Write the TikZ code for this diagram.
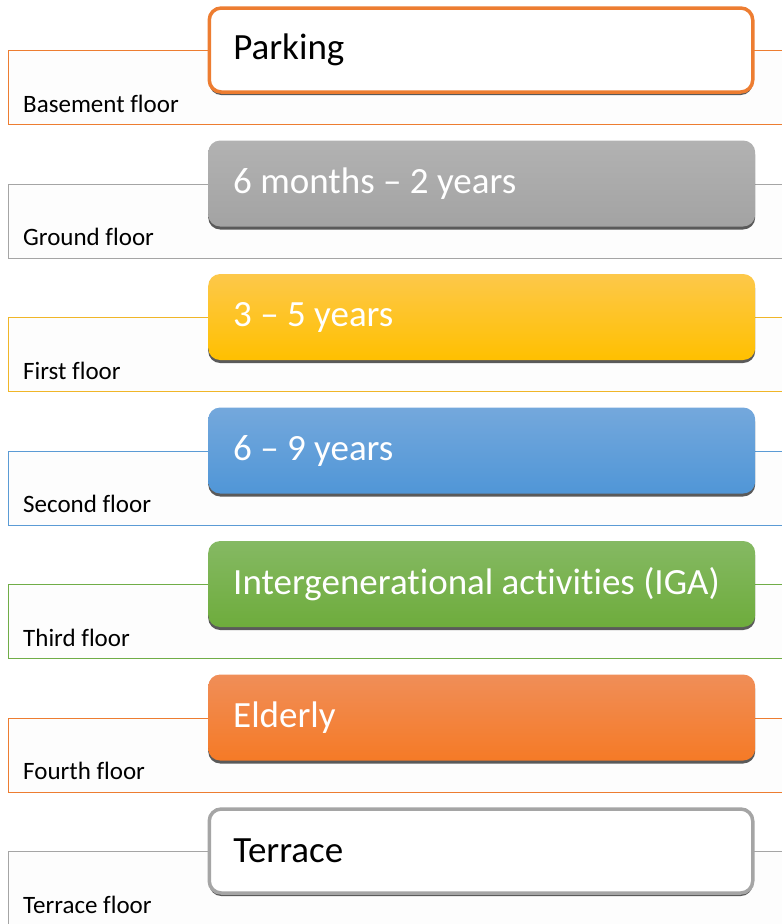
\documentclass[tikz,border=0pt]{standalone}
\usepackage{fontspec}
\setmainfont{Carlito}[Ligatures={TeX,NoCommon}]
\usepackage{tikz}
\usetikzlibrary{shadows}
\usepackage{xcolor}
\definecolor{accorange}{RGB}{237,125,49}
\definecolor{accgray}{RGB}{165,165,165}
\definecolor{accgold}{RGB}{240,182,40}
\definecolor{accblue}{RGB}{91,155,213}
\definecolor{accgreen}{RGB}{112,173,71}
\definecolor{orangetop}{RGB}{240,142,88}
\definecolor{orangebot}{RGB}{245,122,38}
\definecolor{graytop}{RGB}{178,178,178}
\definecolor{graybot}{RGB}{163,163,163}
\definecolor{goldtop}{RGB}{253,200,74}
\definecolor{goldbot}{RGB}{255,192,0}
\definecolor{bluetop}{RGB}{116,168,220}
\definecolor{bluebot}{RGB}{80,150,215}
\definecolor{greentop}{RGB}{133,185,99}
\definecolor{greenbot}{RGB}{110,172,60}
\definecolor{framefill}{RGB}{253,253,253}
\definecolor{shadowgray}{RGB}{90,90,90}

\begin{document}
\begin{tikzpicture}[
    x=1pt, y=-1pt,
    floorframe/.style={rectangle, anchor=north west, line width=1pt, fill=framefill,
        minimum width=800pt, minimum height=74pt, inner sep=0pt},
    floorlabel/.style={anchor=base west, inner sep=0pt, font=\fontsize{25}{30}\selectfont},
    usebox/.style={rectangle, rounded corners=12pt, anchor=west, align=flush left,
        text width=497pt, inner xsep=25pt, inner ysep=0pt, minimum height=86pt,
        font=\fontsize{37}{44}\selectfont,
        general shadow={fill=shadowgray, shadow xshift=0pt, shadow yshift=-3pt}},
    colorbox/.style={usebox, text=white, draw=none},
    plainbox/.style={usebox, fill=white, text=black, line width=3.5pt,
        text width=495.5pt, inner xsep=24pt, minimum height=84pt}
]
\clip (0,0) rectangle (782,924);

% floor frames
\node[floorframe, draw=accorange] (basement) at (8,50) {};
\node[floorframe, draw=accgray] (ground) at (8,183.5) {};
\node[floorframe, draw=accgold] (first) at (8,317) {};
\node[floorframe, draw=accblue] (second) at (8,450.5) {};
\node[floorframe, draw=accgreen] (third) at (8,584) {};
\node[floorframe, draw=accorange] (fourth) at (8,717.5) {};
\node[floorframe, draw=accgray] (terrace) at (8,851) {};

\node[floorlabel] (basementlbl) at (23,112) {Basement floor};
\node[floorlabel] (groundlbl) at (23,245.5) {Ground floor};
\node[floorlabel] (firstlbl) at (23,379) {First floor};
\node[floorlabel] (secondlbl) at (23,512.5) {Second floor};
\node[floorlabel] (thirdlbl) at (23,646) {Third floor};
\node[floorlabel] (fourthlbl) at (23,779.5) {Fourth floor};
\node[floorlabel] (terracelbl) at (23,913) {Terrace floor};

% use boxes
\node[plainbox, draw=accorange] (parking) at (207.5,50) {Parking};
\node[colorbox, top color=graytop, bottom color=graybot] (toddler) at (208,183.5) {6 months -- 2 years};
\node[colorbox, top color=goldtop, bottom color=goldbot] (preschool) at (208,317) {3 -- 5 years};
\node[colorbox, top color=bluetop, bottom color=bluebot] (school) at (208,450.5) {6 -- 9 years};
\node[colorbox, top color=greentop, bottom color=greenbot] (iga) at (208,584) {Intergenerational activities (IGA)};
\node[colorbox, top color=orangetop, bottom color=orangebot] (elderly) at (208,717.5) {Elderly};
\node[plainbox, draw=accgray] (roof) at (207.5,851) {Terrace};
\end{tikzpicture}
\end{document}
